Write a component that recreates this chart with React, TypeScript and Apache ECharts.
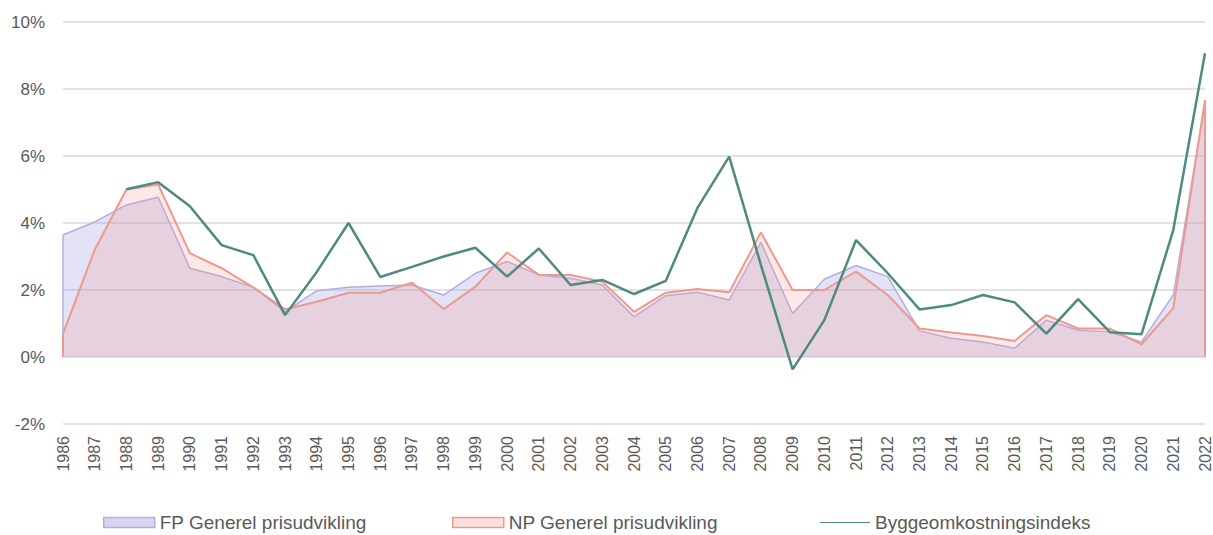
import React, { useEffect, useRef } from "react";
import * as echarts from "echarts";

const years = [
  "1986","1987","1988","1989","1990","1991","1992","1993","1994","1995","1996","1997",
  "1998","1999","2000","2001","2002","2003","2004","2005","2006","2007","2008","2009",
  "2010","2011","2012","2013","2014","2015","2016","2017","2018","2019","2020","2021","2022",
];

const fpValues = [
  3.64, 4.03, 4.54, 4.77, 2.65, 2.4, 2.08, 1.35, 1.98, 2.08, 2.12, 2.15,
  1.85, 2.5, 2.85, 2.45, 2.35, 2.15, 1.2, 1.83, 1.93, 1.7, 3.42, 1.3,
  2.32, 2.73, 2.4, 0.78, 0.56, 0.45, 0.26, 1.1, 0.8, 0.75, 0.45, 1.85, 7.6,
];

const npValues = [
  0.7, 3.2, 5.0, 5.15, 3.1, 2.65, 2.08, 1.42, 1.65, 1.92, 1.92, 2.22,
  1.43, 2.1, 3.12, 2.45, 2.45, 2.25, 1.35, 1.92, 2.03, 1.93, 3.72, 2.0,
  2.0, 2.55, 1.85, 0.85, 0.73, 0.63, 0.48, 1.25, 0.85, 0.85, 0.38, 1.46, 7.67,
];

const byggValues: (number | null)[] = [
  null, null, 5.01, 5.22, 4.5, 3.34, 3.04, 1.25, 2.54, 4.0, 2.39, 2.69,
  3.0, 3.26, 2.4, 3.24, 2.15, 2.3, 1.88, 2.27, 4.45, 5.98, 2.75, -0.37,
  1.1, 3.49, 2.5, 1.42, 1.55, 1.85, 1.63, 0.7, 1.73, 0.74, 0.68, 3.79, 9.07,
];

const seriesNames = ["FP Generel prisudvikling", "NP Generel prisudvikling", "Byggeomkostningsindeks"];
const yTicks = { min: -2, max: 10, interval: 2 };

const FP_LINE = "#b3ade3";
const FP_FILL = "rgba(163,157,222,0.42)";
const NP_LINE = "#ec9a8f";
const NP_FILL = "rgba(240,150,140,0.3)";
const GREEN = "#4f8a7f";
const FONT = "'Liberation Sans', Arial, sans-serif";

function edges(vals: number[], color: string, width: number) {
  const first = years[0];
  const last = years[years.length - 1];
  return {
    silent: true,
    symbol: "none",
    label: { show: false },
    lineStyle: { color, width, type: "solid" },
    data: [
      [{ coord: [first, 0] }, { coord: [first, vals[0]] }],
      [{ coord: [last, 0] }, { coord: [last, vals[vals.length - 1]] }],
    ],
  };
}

export default function App() {
  const ref = useRef<HTMLDivElement>(null);
  useEffect(() => {
    if (!ref.current) return;
    const chart = echarts.init(ref.current, null, { renderer: "svg" });
    const legendText = { color: "#595959", fontSize: 19, fontFamily: FONT };
    chart.setOption({
      animation: false,
      textStyle: { fontFamily: FONT },
      grid: { left: 63, right: 8, top: 22, bottom: 111, containLabel: false },
      legend: [
        {
          left: 103, top: 513, itemWidth: 51, itemHeight: 10, itemGap: 5, padding: 0,
          textStyle: legendText, icon: "rect",
          data: [{ name: seriesNames[0], itemStyle: { color: FP_FILL, borderColor: FP_LINE, borderWidth: 1.5 } }],
        },
        {
          left: 452, top: 513, itemWidth: 51, itemHeight: 10, itemGap: 5, padding: 0,
          textStyle: legendText, icon: "rect",
          data: [{ name: seriesNames[1], itemStyle: { color: NP_FILL, borderColor: NP_LINE, borderWidth: 1.5 } }],
        },
        {
          left: 820, top: 513, itemWidth: 50, itemHeight: 10, itemGap: 4, padding: 0,
          textStyle: legendText,
          icon: "path://M0,4 L100,4 L100,6 L0,6 Z",
          data: [{ name: seriesNames[2], itemStyle: { color: GREEN } }],
        },
      ],
      xAxis: {
        type: "category",
        data: years,
        boundaryGap: false,
        axisLine: { show: false, onZero: false },
        axisTick: { show: false },
        splitLine: { show: false },
        axisLabel: { rotate: 90, color: "#595959", fontSize: 16, fontFamily: FONT, margin: 12, interval: 0 },
      },
      yAxis: {
        type: "value",
        min: yTicks.min,
        max: yTicks.max,
        interval: yTicks.interval,
        axisLine: { show: false },
        axisTick: { show: false },
        splitLine: { lineStyle: { color: "#d9d9d9", width: 1.5 } },
        axisLabel: { formatter: "{value}%", color: "#595959", fontSize: 17, fontFamily: FONT, margin: 18 },
      },
      series: [
        {
          name: seriesNames[0],
          type: "line",
          data: fpValues,
          symbol: "none",
          lineStyle: { color: FP_LINE, width: 1.5 },
          itemStyle: { color: FP_LINE },
          areaStyle: { color: FP_FILL, origin: 0 },
          markLine: edges(fpValues, FP_LINE, 1.5),
          z: 1,
        },
        {
          name: seriesNames[1],
          type: "line",
          data: npValues,
          symbol: "none",
          lineStyle: { color: NP_LINE, width: 2 },
          itemStyle: { color: NP_LINE },
          areaStyle: { color: NP_FILL, origin: 0 },
          markLine: edges(npValues, NP_LINE, 2),
          z: 2,
        },
        {
          name: seriesNames[2],
          type: "line",
          data: byggValues,
          symbol: "none",
          connectNulls: false,
          lineStyle: { color: GREEN, width: 2.5 },
          itemStyle: { color: GREEN },
          z: 3,
        },
      ],
    });
    return () => chart.dispose();
  }, []);
  return <div ref={ref} style={{ width: 1213, height: 535, position: "absolute", left: 0, top: 0 }} />;
}
